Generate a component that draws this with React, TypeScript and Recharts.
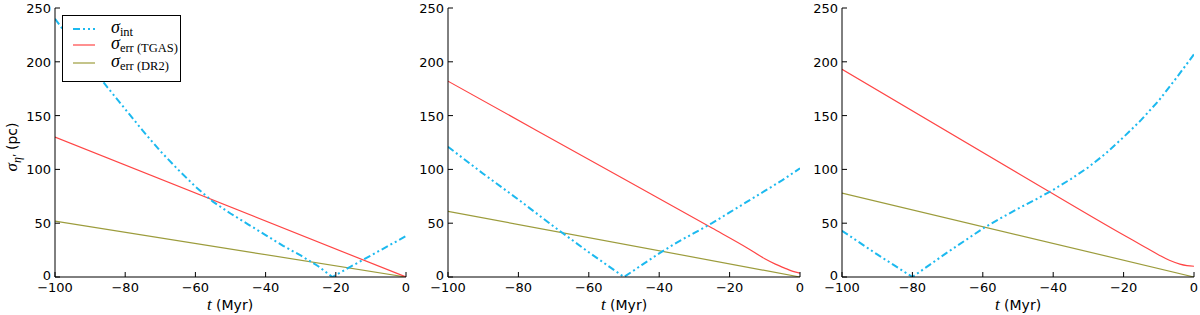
import { LineChart, Line, XAxis, YAxis } from "recharts";

const xTicks = [-100, -80, -60, -40, -20, 0];
const yTicks = [0, 50, 100, 150, 200, 250];

// panel 1
const int1T = [-100, -95, -90, -85, -80, -75, -70, -65, -60, -55, -50, -45, -40, -35, -30, -25, -21, -15, -10, -5, 0];
const int1V = [240, 218, 197, 176, 156, 136, 117, 100, 84, 70, 59, 49, 39, 29, 20, 10, 0, 11, 20, 29, 38];
const tgas1T = [-100, 0];
const tgas1V = [130, 0];
const dr21T = [-100, 0];
const dr21V = [52, 0];

// panel 2
const int2T = [-100, -90, -80, -70, -60, -50, -45, -40, -35, -30, -25, -20, -15, -10, -5, 0];
const int2V = [121, 96, 72, 47, 23, 0, 11, 22, 32, 41, 50, 60, 70, 80, 90, 101];
const tgas2T = [-100, -50, -25, -15, -10, -7, -4, -2, 0];
const tgas2V = [182, 91, 45.5, 27, 17, 12, 7.8, 5.2, 3.5];
const dr22T = [-100, 0];
const dr22V = [61, 0];

// panel 3
const int3T = [-100, -90, -80, -75, -70, -65, -60, -55, -50, -45, -40, -35, -30, -25, -20, -15, -10, -5, 0];
const int3V = [43, 21, 0, 11.5, 23, 34, 45, 54.5, 63.5, 72, 81, 91, 102, 115, 130, 146, 164, 185, 207];
const tgas3T = [-100, -50, -20, -15, -10, -7, -4, -2, 0];
const tgas3V = [193, 96.5, 39, 29.8, 20.5, 15.5, 12, 10.6, 10];
const dr23T = [-100, 0];
const dr23V = [78, 0];

const CYAN = "#1cb9ef";
const RED = "#ff4545";
const OLIVE = "#9c9c3c";
const DASH = "7 3 2 3 2 3";

const pts = (t: number[], v: number[]) => t.map((x, i) => ({ t: x, v: v[i] }));
const fmt = (n: number) => (n < 0 ? `\u2212${-n}` : `${n}`);
const tickFont = { fontSize: 13, fontFamily: "DejaVu Sans", fill: "#000" };

function BottomTick(props: any) {
  const { x, y, payload } = props;
  return (
    <g>
      <line x1={x} y1={y} x2={x} y2={y - 5} stroke="#000" />
      <text x={x} y={y + 15} textAnchor="middle" {...tickFont}>{fmt(payload.value)}</text>
    </g>
  );
}
function LeftTick(props: any) {
  const { x, y, payload } = props;
  const lift = payload.value === 0 ? 2 : 0;
  return (
    <g>
      <line x1={x} y1={y} x2={x + 5} y2={y} stroke="#000" />
      <text x={x - 4} y={y + 5 - lift} textAnchor="end" {...tickFont}>{fmt(payload.value)}</text>
    </g>
  );
}
function TopTick(props: any) {
  const { x, y } = props;
  return <line x1={x} y1={y} x2={x} y2={y + 5} stroke="#000" />;
}
function RightTick(props: any) {
  const { x, y } = props;
  return <line x1={x} y1={y} x2={x - 5} y2={y} stroke="#000" />;
}

const panels = [
  { left: 0, width: 420, ml: 15, mr: 14, int: pts(int1T, int1V), tgas: pts(tgas1T, tgas1V), dr2: pts(dr21T, dr21V) },
  { left: 400, width: 420, ml: 8, mr: 20, int: pts(int2T, int2V), tgas: pts(tgas2T, tgas2V), dr2: pts(dr22T, dr22V) },
  { left: 800, width: 400, ml: 2, mr: 6, int: pts(int3T, int3V), tgas: pts(tgas3T, tgas3V), dr2: pts(dr23T, dr23V) },
];

function Panel({ p }: { p: (typeof panels)[number] }) {
  return (
    <div style={{ position: "absolute", left: p.left, top: 0 }}>
      <LineChart width={p.width} height={315} margin={{ top: 8, right: p.mr, left: p.ml, bottom: 0 }}>
        <XAxis xAxisId="b" dataKey="t" type="number" domain={[-100, 0]} ticks={xTicks} interval={0}
          allowDataOverflow height={38} tickSize={0} tickMargin={0} tick={<BottomTick />} tickLine={false}
          axisLine={{ stroke: "#000" }} />
        <XAxis xAxisId="top" orientation="top" dataKey="t" type="number" domain={[-100, 0]} ticks={xTicks}
          interval={0} allowDataOverflow height={0} tickSize={0} tickMargin={0} tick={<TopTick />}
          tickLine={false} axisLine={{ stroke: "#000" }} />
        <YAxis yAxisId="l" type="number" domain={[0, 250]} ticks={yTicks} interval={0} allowDataOverflow
          width={40} tickSize={0} tickMargin={0} tick={<LeftTick />} tickLine={false} axisLine={{ stroke: "#000" }} />
        <YAxis yAxisId="r" orientation="right" type="number" domain={[0, 250]} ticks={yTicks} interval={0}
          allowDataOverflow width={0} tickSize={0} tickMargin={0} tick={<RightTick />} tickLine={false}
          axisLine={{ stroke: "#000" }} />
        <Line xAxisId="b" yAxisId="l" data={p.dr2} dataKey="v" type="linear" stroke={OLIVE} strokeWidth={1.2}
          dot={false} isAnimationActive={false} />
        <Line xAxisId="b" yAxisId="l" data={p.tgas} dataKey="v" type="monotone" stroke={RED} strokeWidth={1.2}
          dot={false} isAnimationActive={false} />
        <Line xAxisId="b" yAxisId="l" data={p.int} dataKey="v" type="linear" stroke={CYAN} strokeWidth={2}
          strokeDasharray={DASH} dot={false} isAnimationActive={false} />
      </LineChart>
    </div>
  );
}

const serif = "Liberation Serif";
const sans = "DejaVu Sans";

function Overlay() {
  const xCenters = [230, 624, 1018];
  const legendRows = [
    { y: 29, color: CYAN, dash: DASH, w: 2, sub: "int" },
    { y: 45, color: RED, dash: undefined, w: 1.2, sub: "err (TGAS)" },
    { y: 63, color: OLIVE, dash: undefined, w: 1.2, sub: "err (DR2)" },
  ];
  return (
    <svg width={1200} height={315} style={{ position: "absolute", left: 0, top: 0, pointerEvents: "none" }}>
      <g transform="translate(17,147) rotate(-90)">
        <text textAnchor="middle" fill="#000">
          <tspan fontFamily={serif} fontStyle="italic" fontSize={17}>σ</tspan>
          <tspan fontFamily={serif} fontStyle="italic" fontSize={12} dy={4}>η′</tspan>
          <tspan fontFamily={sans} fontSize={14} dy={-4}> (pc)</tspan>
        </text>
      </g>
      {xCenters.map((cx) => (
        <text key={cx} x={cx} y={310} textAnchor="middle" fill="#000">
          <tspan fontFamily={serif} fontStyle="italic" fontSize={17}>t</tspan>
          <tspan fontFamily={sans} fontSize={14}> (Myr)</tspan>
        </text>
      ))}
      <rect x={62.5} y={15.5} width={118} height={66} fill="#fff" stroke="#000" strokeWidth={1} />
      {legendRows.map((r) => (
        <g key={r.sub}>
          <line x1={73} x2={95} y1={r.y} y2={r.y} stroke={r.color} strokeWidth={r.w} strokeDasharray={r.dash} />
          <text x={111} y={r.y + 4} fill="#000">
            <tspan fontFamily={serif} fontStyle="italic" fontSize={18}>σ</tspan>
            <tspan fontFamily={serif} fontSize={12.5} dy={3}>{r.sub}</tspan>
          </text>
        </g>
      ))}
    </svg>
  );
}

export default function App() {
  return (
    <div style={{ position: "absolute", left: 0, top: 0, width: 1200, height: 315, background: "#fff", overflow: "hidden" }}>
      {panels.map((p) => (
        <Panel key={p.left} p={p} />
      ))}
      <Overlay />
    </div>
  );
}
